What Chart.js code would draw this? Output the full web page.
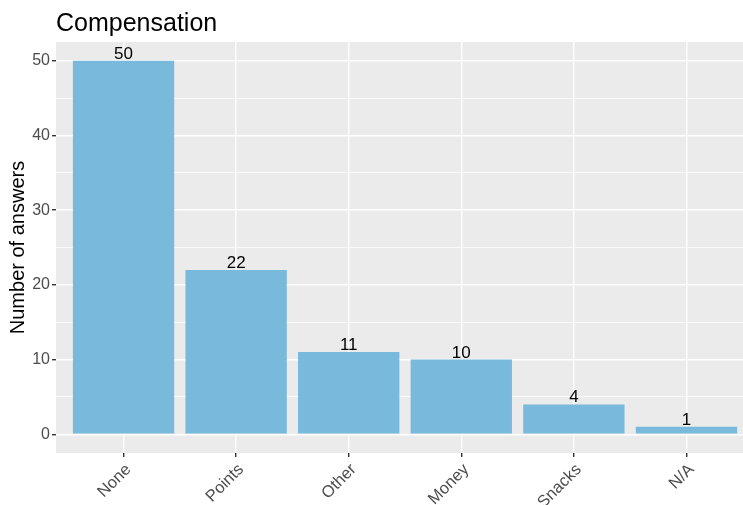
<!DOCTYPE html>
<html>
<head>
<meta charset="utf-8">
<script src="https://cdn.jsdelivr.net/npm/chart.js@4/dist/chart.umd.min.js"></script>
<style>
  html, body { margin: 0; padding: 0; overflow: hidden; background: #fff; }
  canvas { display: block; }
</style>
</head>
<body>
<canvas id="chart" width="760" height="505" style="width:760px;height:505px"></canvas>
<script>
// Compensation answers
const categories = ['None', 'Points', 'Other', 'Money', 'Snacks', 'N/A'];
const answers = [50, 22, 11, 10, 4, 1];
const yTicks = [0, 5, 10, 15, 20, 25, 30, 35, 40, 45, 50];

const panelBg = {
  id: 'panelBg',
  beforeDraw(chart) {
    const { ctx, chartArea: a } = chart;
    ctx.save();
    ctx.fillStyle = '#EBEBEB';
    ctx.fillRect(a.left, a.top, a.right - a.left, a.bottom - a.top);
    ctx.restore();
  },
};

const barLabels = {
  id: 'barLabels',
  afterDatasetsDraw(chart) {
    const { ctx } = chart;
    const meta = chart.getDatasetMeta(0);
    ctx.save();
    ctx.font = '17px "Liberation Sans", Arial, sans-serif';
    ctx.fillStyle = '#000';
    ctx.textAlign = 'center';
    ctx.textBaseline = 'alphabetic';
    meta.data.forEach((bar, i) => {
      ctx.fillText(String(answers[i]), bar.x, bar.y - 2);
    });
    ctx.restore();
  },
};

const plotTitle = {
  id: 'plotTitle',
  afterDraw(chart) {
    const { ctx, chartArea: a } = chart;
    ctx.save();
    ctx.font = '25px "Liberation Sans", Arial, sans-serif';
    ctx.fillStyle = '#000';
    ctx.textAlign = 'left';
    ctx.textBaseline = 'alphabetic';
    ctx.fillText('Compensation', a.left, 31);
    ctx.restore();
  },
};

new Chart(document.getElementById('chart'), {
  type: 'bar',
  data: {
    datasets: [
      {
        data: answers.map((v, i) => ({ x: i + 1, y: v })),
        backgroundColor: '#78B9DC',
        borderWidth: 0,
        categoryPercentage: 1,
        barPercentage: 0.9,
      },
    ],
  },
  options: {
    responsive: false,
    animation: false,
    layout: { padding: { top: 42, right: 6, bottom: 0, left: 0 } },
    plugins: {
      legend: { display: false },
      tooltip: { enabled: false },
    },
    scales: {
      x: {
        type: 'linear',
        min: 0.4,
        max: 6.6,
        offset: false,
        afterBuildTicks: (scale) => {
          scale.ticks = categories.map((c, i) => ({ value: i + 1 }));
        },
        afterFit: (scale) => {
          scale.height = 52;
        },
        border: { display: false },
        grid: {
          offset: false,
          color: '#FFFFFF',
          lineWidth: 1.4,
          tickColor: '#333333',
          tickLength: 4,
        },
        ticks: {
          autoSkip: false,
          minRotation: 45,
          maxRotation: 45,
          padding: 3,
          labelOffset: 5,
          color: '#4D4D4D',
          font: { size: 16.5, family: '"Liberation Sans", Arial, sans-serif' },
          callback: (value) => categories[value - 1],
        },
      },
      y: {
        min: -2.5,
        max: 52.5,
        afterBuildTicks: (scale) => {
          scale.ticks = yTicks.map((v) => ({ value: v }));
        },
        afterFit: (scale) => {
          scale.width = 56;
        },
        border: { display: false },
        grid: {
          color: '#FFFFFF',
          lineWidth: (c) => (c.tick && c.tick.value % 10 === 0 ? 1.4 : 0.7),
          tickColor: (c) => (c.tick && c.tick.value % 10 === 0 ? '#333333' : 'rgba(0,0,0,0)'),
          tickLength: 4,
        },
        ticks: {
          padding: 2,
          color: '#4D4D4D',
          font: { size: 16, family: '"Liberation Sans", Arial, sans-serif' },
          callback: (value) => (value % 10 === 0 ? String(value) : ''),
        },
        title: {
          display: true,
          text: 'Number of answers',
          color: '#000',
          padding: { top: 6, bottom: 0 },
          font: { size: 20, family: '"Liberation Sans", Arial, sans-serif' },
        },
      },
    },
  },
  plugins: [panelBg, barLabels, plotTitle],
});
</script>
</body>
</html>
